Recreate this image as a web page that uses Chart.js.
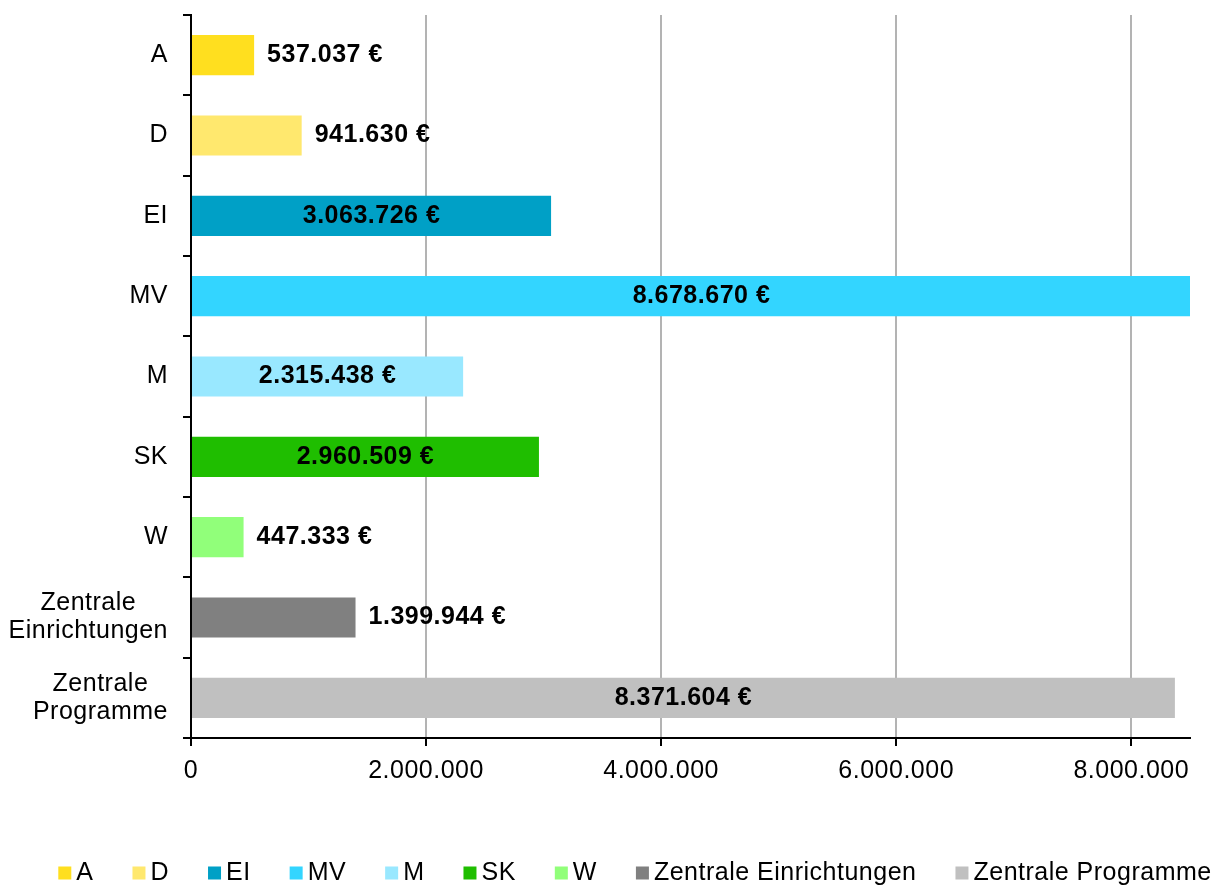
<!DOCTYPE html>
<html>
<head>
<meta charset="utf-8">
<script src="https://cdn.jsdelivr.net/npm/chart.js@4.4.1/dist/chart.umd.min.js"></script>
<style>
    html, body { margin: 0; padding: 0; background: #fff; }
    canvas { display: block; }
</style>
</head>
<body>
<canvas id="budgetChart" width="1218" height="885"></canvas>
<script>
// Chart data
const categories = ['A', 'D', 'EI', 'MV', 'M', 'SK', 'W', 'Zentrale Einrichtungen', 'Zentrale Programme'];
const amounts = [537037, 941630, 3063726, 8678670, 2315438, 2960509, 447333, 1399944, 8371604];
const barColors = ['#FFDF1F', '#FFE86E', '#00A0C6', '#33D5FF', '#99E8FF', '#1FBE00', '#91FF7A', '#808080', '#C0C0C0'];
const xTickValues = [0, 2000000, 4000000, 6000000, 8000000];
const xMax = 8500000;

const FONT = "'Liberation Sans', Arial, sans-serif";
const SPACING = '0.5px';

// German thousands separator
function fmt(v) {
    return String(v).replace(/\B(?=(\d{3})+(?!\d))/g, '.');
}

// Slightly wider text, like the original rendering
const letterSpacingPlugin = {
    id: 'letterSpacing',
    beforeDraw(chart) {
        if ('letterSpacing' in chart.ctx) chart.ctx.letterSpacing = SPACING;
    }
};

// Category labels on the y axis (multi-line labels centred as a block)
const yLabelPlugin = {
    id: 'yLabels',
    afterDraw(chart) {
        const ctx = chart.ctx;
        const scale = chart.scales.y;
        const rightEdge = scale.right - 8 - 15;
        const lineH = 28;
        ctx.save();
        ctx.font = '25px ' + FONT;
        ctx.fillStyle = '#000';
        ctx.textBaseline = 'middle';
        ctx.textAlign = 'left';
        categories.forEach((label, i) => {
            const lines = label.split(' ');
            const w = Math.max(...lines.map(l => ctx.measureText(l).width));
            const y = scale.getPixelForTick(i);
            lines.forEach((line, j) => {
                const lw = ctx.measureText(line).width;
                const x = rightEdge - w / 2 - lw / 2;
                ctx.fillText(line, x, y + (j - (lines.length - 1) / 2) * lineH);
            });
        });
        ctx.restore();
    }
};

// Value labels: centred in the bar when they fit, otherwise after the bar end
const valueLabelPlugin = {
    id: 'valueLabels',
    afterDatasetsDraw(chart) {
        const ctx = chart.ctx;
        const area = chart.chartArea;
        const meta = chart.getDatasetMeta(0);
        ctx.save();
        ctx.font = 'bold 25px ' + FONT;
        ctx.fillStyle = '#000';
        ctx.textBaseline = 'middle';
        ctx.textAlign = 'left';
        meta.data.forEach((bar, i) => {
            const text = fmt(amounts[i]) + ' €';
            const w = ctx.measureText(text).width;
            const visible = Math.min(bar.x, area.right) - bar.base;
            if (w + 40 < visible) {
                ctx.fillText(text, (bar.x + bar.base) / 2 - w / 2, bar.y);
            } else {
                ctx.fillText(text, bar.x + 13, bar.y);
            }
        });
        ctx.restore();
    }
};

// Legend row at the bottom
const legendPlugin = {
    id: 'boxLegend',
    afterDraw(chart) {
        const ctx = chart.ctx;
        const box = 13, gap = 5, spacing = 39;
        const y = 873;
        ctx.save();
        ctx.font = '25px ' + FONT;
        ctx.textBaseline = 'middle';
        ctx.textAlign = 'left';
        const widths = categories.map(c => ctx.measureText(c).width);
        const total = widths.reduce((s, w) => s + box + gap + w, 0) + spacing * (categories.length - 1);
        let x = (chart.width - total) / 2 + 26;
        categories.forEach((c, i) => {
            ctx.fillStyle = barColors[i];
            ctx.fillRect(x, y - box / 2, box, box);
            ctx.fillStyle = '#000';
            ctx.fillText(c, x + box + gap, y);
            x += box + gap + widths[i] + spacing;
        });
        ctx.restore();
    }
};

function initializeChart() {
    const ctx = document.getElementById('budgetChart').getContext('2d');

    new Chart(ctx, {
        type: 'bar',
        data: {
            labels: categories,
            datasets: [{
                data: amounts,
                backgroundColor: barColors,
                borderWidth: 0,
                barPercentage: 0.5,
                categoryPercentage: 1
            }]
        },
        options: {
            indexAxis: 'y',
            responsive: false,
            animation: false,
            layout: {
                padding: { top: 15, right: 28, bottom: 0, left: 0 }
            },
            plugins: {
                legend: { display: false },
                tooltip: { enabled: false }
            },
            scales: {
                x: {
                    min: 0,
                    max: xMax,
                    afterBuildTicks: scale => {
                        scale.ticks = xTickValues.map(v => ({ value: v }));
                    },
                    afterFit: scale => { scale.height = 147; },
                    grid: {
                        color: '#b3b3b3',
                        lineWidth: 2,
                        tickColor: '#000',
                        tickLength: 8
                    },
                    border: { color: '#000', width: 2 },
                    ticks: {
                        color: '#000',
                        padding: 10,
                        maxRotation: 0,
                        font: { family: FONT, size: 25 },
                        callback: v => fmt(v)
                    }
                },
                y: {
                    afterFit: scale => { scale.width = 191; },
                    grid: {
                        offset: true,
                        drawOnChartArea: false,
                        color: '#000',
                        lineWidth: 2,
                        tickLength: 8
                    },
                    border: { color: '#000', width: 2 },
                    ticks: { display: false }
                }
            }
        },
        plugins: [letterSpacingPlugin, yLabelPlugin, valueLabelPlugin, legendPlugin]
    });
}

initializeChart();
</script>
</body>
</html>
